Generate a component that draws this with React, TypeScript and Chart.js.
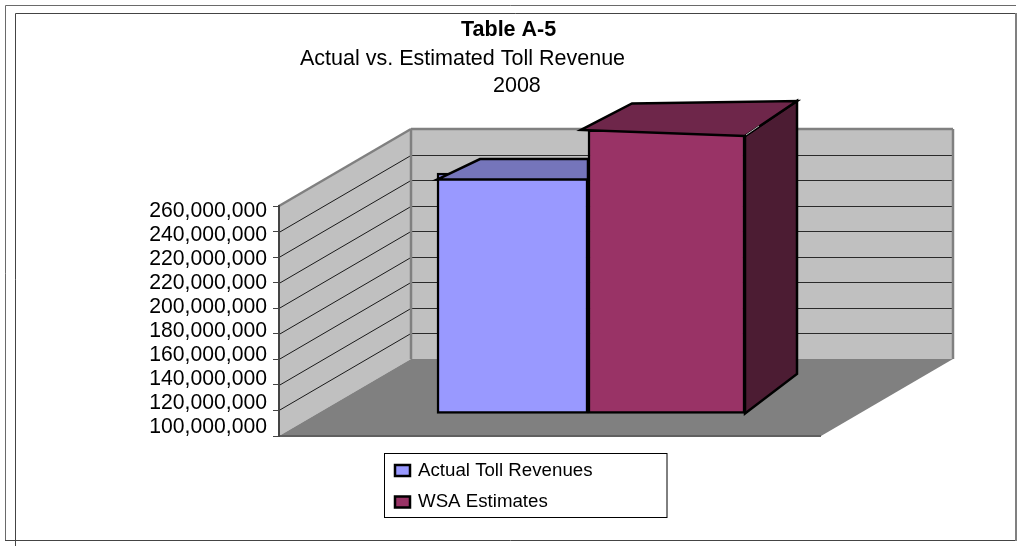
import React, { useEffect, useRef } from "react";
import { Chart, registerables } from "chart.js";

Chart.register(...registerables);

const categories = ["2008"];
const actualTollRevenues = [267600000];
const wsaEstimates = [297600000];
const tickLabels = [
  "100,000,000",
  "120,000,000",
  "140,000,000",
  "160,000,000",
  "180,000,000",
  "200,000,000",
  "220,000,000",
  "220,000,000",
  "240,000,000",
  "260,000,000",
];
const titleLines = [
  { text: "Table A-5", x: 461, y: 36, bold: true },
  { text: "Actual vs. Estimated Toll Revenue", x: 300, y: 65, bold: false },
  { text: "2008", x: 493, y: 92, bold: false },
];

const AXIS_MIN = 100000000;
const AXIS_MAX = 260000000;
const FONT = '"Liberation Sans", Arial, sans-serif';

// Oblique projection of the box that holds the bars.
const WALL_DX = 132;
const WALL_DY = 77;
const BAR_DX = 38;
const BAR_DY = 22;

// Labels on the value axis run on a tighter pitch than its tick marks.
const LABEL_PITCH = 24;
const LABEL_FIRST_GAP = 9;

const poly = (ctx: CanvasRenderingContext2D, pts: number[][], fill: string, stroke: string | null, lw = 1) => {
  ctx.beginPath();
  pts.forEach(([x, y], i) => (i ? ctx.lineTo(x, y) : ctx.moveTo(x, y)));
  ctx.closePath();
  ctx.fillStyle = fill;
  ctx.fill();
  if (stroke) {
    ctx.strokeStyle = stroke;
    ctx.lineWidth = lw;
    ctx.lineJoin = "miter";
    ctx.stroke();
  }
};

const seg = (ctx: CanvasRenderingContext2D, x1: number, y1: number, x2: number, y2: number, color: string, lw = 1) => {
  ctx.beginPath();
  ctx.moveTo(x1, y1);
  ctx.lineTo(x2, y2);
  ctx.strokeStyle = color;
  ctx.lineWidth = lw;
  ctx.stroke();
};

const gridTicks = () => {
  const step = (AXIS_MAX - AXIS_MIN) / (tickLabels.length - 1);
  return tickLabels.map((_, i) => ({ value: AXIS_MIN + i * step }));
};

// Page frame, titles, walls and floor, all beneath the axes.
const backdropPlugin = {
  id: "backdrop",
  beforeDraw(chart: any) {
    const { ctx, chartArea: a } = chart;
    const y = chart.scales.y;
    ctx.save();
    ctx.fillStyle = "#ffffff";
    ctx.fillRect(0, 0, chart.width, chart.height);

    seg(ctx, 5.5, 5.5, 1016, 5.5, "#6a6a6a");
    seg(ctx, 5.5, 5.5, 5.5, 541, "#6a6a6a");
    seg(ctx, 15.5, 13.5, 1016, 13.5, "#444444");
    seg(ctx, 15.5, 13.5, 15.5, 546, "#444444");
    seg(ctx, 5, 540.5, 1016, 540.5, "#444444");
    seg(ctx, 1016, 13, 1016, 541, "#808080", 2);

    ctx.fillStyle = "#000000";
    ctx.textBaseline = "alphabetic";
    ctx.textAlign = "left";
    titleLines.forEach((l) => {
      ctx.font = `${l.bold ? "bold " : ""}21.5px ${FONT}`;
      ctx.fillText(l.text, l.x, l.y);
    });

    const backL = a.left + WALL_DX;
    const backR = a.right + WALL_DX;
    const backT = a.top - WALL_DY;
    const backB = a.bottom - WALL_DY;

    poly(ctx, [[backL, backT], [backR, backT], [backR, backB], [backL, backB]], "#c0c0c0", null);
    poly(ctx, [[a.left, a.top], [backL, backT], [backL, backB], [a.left, a.bottom]], "#c0c0c0", null);
    poly(ctx, [[a.left, a.bottom], [a.right, a.bottom], [backR, backB], [backL, backB]], "#808080", null);

    y.ticks.slice(1, -1).forEach((t: any) => {
      const py = Math.round(y.getPixelForValue(t.value)) + 0.5;
      seg(ctx, a.left, py, backL, py - WALL_DY, "#1a1a1a");
      seg(ctx, backL, py - WALL_DY, backR, py - WALL_DY, "#2a2a2a");
    });

    seg(ctx, a.left, a.top, backL, backT, "#808080", 2.5);
    seg(ctx, backL, backT, backR, backT, "#808080", 2.5);
    seg(ctx, backL, backT, backL, backB, "#808080", 2.5);
    seg(ctx, backR, backT, backR, backB, "#808080", 2.5);
    seg(ctx, a.left, a.bottom, a.right, a.bottom, "#606060", 2);
    ctx.restore();
  },
};

// Each bar sits part way into the box, with its top and side faces built on the drawn rectangle.
const extrusionPlugin = {
  id: "extrusion",
  beforeDatasetDraw(chart: any) {
    chart.ctx.save();
    chart.ctx.translate(BAR_DX, -BAR_DY);
  },
  afterDatasetDraw(chart: any, args: any) {
    const { ctx } = chart;
    const el = chart.getDatasetMeta(args.index).data[0];
    const L = el.x - el.width / 2;
    const R = el.x + el.width / 2;
    const T = el.y;
    const B = el.base;
    if (args.index === 0) {
      poly(ctx, [[L, T + 6.5], [L + 43, T - 14], [R, T - 14], [R, T + 6.5]], "#7575bb", "#000000", 2.5);
    } else {
      poly(ctx, [[R, T + 6], [R + 52, T - 29], [R + 52, B - 39.5], [R, B]], "#4c1c33", "#000000", 2.5);
      poly(ctx, [[L - 7, T], [L + 44, T - 26.5], [R + 52, T - 29], [R, T + 6]], "#6e264a", "#000000", 2.5);
      // Thin highlight where the top and side faces meet at the front corner.
      seg(ctx, R + 1, T + 5, R + 14, T - 4, "#b8b8b8", 1);
    }
    ctx.restore();
  },
};

// Boxed legend below the floor, read from the datasets.
const legendBoxPlugin = {
  id: "legendBox",
  afterDraw(chart: any) {
    const { ctx } = chart;
    ctx.save();
    ctx.fillStyle = "#ffffff";
    ctx.strokeStyle = "#000000";
    ctx.lineWidth = 1;
    ctx.fillRect(384, 453, 283, 64);
    ctx.strokeRect(384.5, 453.5, 282.5, 64);
    ctx.font = `18.7px ${FONT}`;
    ctx.textBaseline = "alphabetic";
    ctx.textAlign = "left";
    chart.data.datasets.forEach((ds: any, i: number) => {
      const top = 465 + i * 31.5;
      ctx.fillStyle = ds.backgroundColor;
      ctx.fillRect(395, top, 15, 11);
      ctx.lineWidth = 2.5;
      ctx.strokeRect(395, top, 15, 11);
      ctx.fillStyle = "#000000";
      ctx.fillText(ds.label, 418, 476 + i * 31);
    });
    ctx.restore();
  },
};

export default function App() {
  const ref = useRef<HTMLCanvasElement>(null);
  useEffect(() => {
    const chart = new Chart(ref.current!, {
      type: "bar",
      data: {
        labels: categories,
        datasets: [
          {
            label: "Actual Toll Revenues",
            data: actualTollRevenues,
            base: AXIS_MIN,
            backgroundColor: "#9999ff",
            borderColor: "#000000",
            borderWidth: 2.5,
            borderSkipped: false,
            barThickness: 151,
            clip: false,
          },
          {
            label: "WSA Estimates",
            data: wsaEstimates,
            base: AXIS_MIN,
            backgroundColor: "#993366",
            borderColor: "#000000",
            borderWidth: 2.5,
            borderSkipped: false,
            barThickness: 157,
            clip: false,
          },
        ],
      },
      options: {
        animation: false,
        responsive: false,
        events: [],
        layout: { autoPadding: false, padding: { left: 0, top: 206, right: 196, bottom: 110 } },
        plugins: { legend: { display: false }, title: { display: false }, tooltip: { enabled: false } },
        scales: {
          x: { display: false },
          y: {
            position: "left",
            weight: 0,
            min: AXIS_MIN,
            max: AXIS_MAX,
            afterBuildTicks: (s: any) => {
              s.ticks = gridTicks();
            },
            afterFit: (s: any) => {
              s.width = 6;
            },
            ticks: { display: false },
            grid: { drawOnChartArea: false, drawTicks: true, tickLength: 6, color: "#444444", lineWidth: 1 },
            border: { color: "#444444", width: 2 },
          },
          tickText: {
            type: "linear",
            position: "left",
            weight: 1,
            min: -LABEL_FIRST_GAP / LABEL_PITCH,
            max: (230 - LABEL_FIRST_GAP) / LABEL_PITCH,
            afterBuildTicks: (s: any) => {
              s.ticks = tickLabels.map((_, i) => ({ value: i }));
            },
            afterFit: (s: any) => {
              s.width = 273;
            },
            ticks: {
              autoSkip: false,
              padding: 6,
              color: "#000000",
              font: { family: FONT, size: 21.2 },
              callback: (_v: any, i: number) => tickLabels[i],
            },
            grid: { display: false, drawTicks: false },
            border: { display: false },
          },
        },
      } as any,
      plugins: [backdropPlugin, extrusionPlugin, legendBoxPlugin],
    });
    return () => chart.destroy();
  }, []);
  return (
    <div style={{ position: "fixed", left: 0, top: 0, width: 1017, height: 546 }}>
      <canvas ref={ref} width={1017} height={546} style={{ display: "block" }} />
    </div>
  );
}
